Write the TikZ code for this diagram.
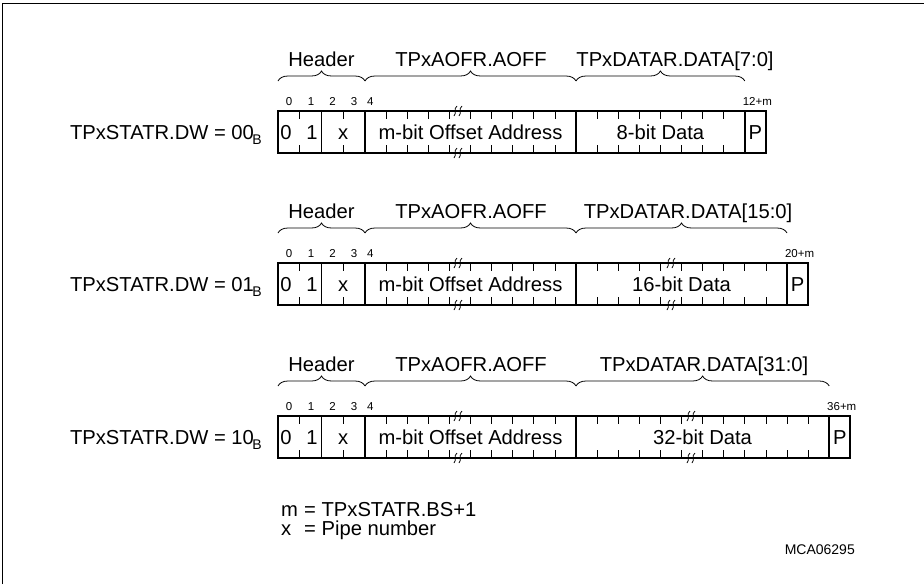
\documentclass[tikz,border=0pt]{standalone}
\usepackage{fontspec}
\setmainfont{Liberation Sans}
\usetikzlibrary{decorations.pathreplacing}
\tikzset{
  txt/.style={inner sep=0pt, font=\fontsize{20.2}{23}\selectfont, anchor=base},
  bitlbl/.style={inner sep=0pt, font=\fontsize{11.5}{12}\selectfont, anchor=base},
  note/.style={inner sep=0pt, font=\fontsize{14}{16}\selectfont, anchor=base east},
  heavy/.style={line width=2pt},
  light/.style={line width=0.9pt},
  tickline/.style={line width=0.8pt},
  bracestyle/.style={decorate, decoration={brace, amplitude=10pt}, line width=0.8pt},
}
\newcommand\brkmark[2]{%
  \draw[tickline] (#1-4,#2+5) .. controls (#1-1,#2+2) and (#1-5,#2-2) .. (#1-1,#2-5);
  \draw[tickline] (#1+1,#2+5) .. controls (#1+4,#2+2) and (#1,#2-2) .. (#1+4,#2-5);
}
% #1 prefix, #2 top y, #3 data units, #4 data label, #5 data label x,
% #6 row label value, #7 data break x (0 = none), #8 data text, #9 end bit label
\newcommand\bitrow[9]{%
  \pgfmathsetmacro\rwT{#2}
  \pgfmathsetmacro\rwB{#2+42}
  \pgfmathsetmacro\rwD{576+#3*21.1}
  \pgfmathsetmacro\rwP{\rwD+21.1}
  \pgfmathsetmacro\rwPc{\rwD+10.55}
  \pgfmathsetmacro\rwDc{(576+\rwD)/2}
  \pgfmathsetmacro\rwBase{#2+28}
  \pgfmathsetmacro\rwLab{#2-45}
  \pgfmathsetmacro\rwBit{#2-6}
  \pgfmathsetmacro\rwBr{#2-30}
  \pgfmathtruncatemacro\rwN{#3-1}
  % ticks
  \foreach \x in {299.75,343.25} {
    \draw[tickline] (\x,\rwT) -- ++(0,8);
    \draw[tickline] (\x,\rwB) -- ++(0,-8);
  }
  \foreach \k in {1,...,9} {
    \draw[tickline] (365+\k*21.1,\rwT) -- ++(0,8);
    \draw[tickline] (365+\k*21.1,\rwB) -- ++(0,-8);
  }
  \foreach \k in {1,...,\rwN} {
    \draw[tickline] (576+\k*21.1,\rwT) -- ++(0,8);
    \draw[tickline] (576+\k*21.1,\rwB) -- ++(0,-8);
  }
  % frame and dividers
  \draw[heavy] (278,\rwT) rectangle (\rwP,\rwB);
  \draw[light] (321.5,\rwT) -- (321.5,\rwB);
  \draw[heavy] (365,\rwT) -- (365,\rwB);
  \draw[heavy] (576,\rwT) -- (576,\rwB);
  \draw[heavy] (\rwD,\rwT) -- (\rwD,\rwB);
  % break marks
  \brkmark{458}{\rwT}
  \brkmark{458}{\rwB}
  \ifdim #7pt>0pt
    \brkmark{#7}{\rwT}
    \brkmark{#7}{\rwB}
  \fi
  % braces
  \draw[bracestyle] (278,\rwBr) -- (365,\rwBr);
  \draw[bracestyle] (365,\rwBr) -- (576,\rwBr);
  \draw[bracestyle] (576,\rwBr) -- (\rwD,\rwBr);
  % brace labels
  \node[txt] (#1hdr) at (321.5,\rwLab) {Header};
  \node[txt] (#1aoff) at (471,\rwLab) {TPxAOFR.AOFF};
  \node[txt] (#1data) at (#5,\rwLab) {#4};
  % bit numbers
  \node[bitlbl] (#1b0) at (289,\rwBit) {0};
  \node[bitlbl] (#1b1) at (311,\rwBit) {1};
  \node[bitlbl] (#1b2) at (332.5,\rwBit) {2};
  \node[bitlbl] (#1b3) at (354,\rwBit) {3};
  \node[bitlbl, anchor=base west] (#1b4) at (367,\rwBit) {4};
  \node[bitlbl] (#1bend) at (\rwPc+2,\rwBit) {#9};
  % field texts
  \node[txt] (#1z) at (286,\rwBase) {0};
  \node[txt] (#1o) at (312,\rwBase) {1};
  \node[txt] (#1x) at (343.25,\rwBase) {x};
  \node[txt] (#1off) at (470.5,\rwBase) {m-bit Offset Address};
  \node[txt] (#1dat) at (\rwDc,\rwBase) {#8};
  \node[txt] (#1p) at (\rwPc,\rwBase) {P};
  % row label
  \node[txt, anchor=base east] (#1dw) at (262,\rwBase) {TPxSTATR.DW = #6\kern-1.5pt{\fontsize{14}{14}\selectfont\raisebox{-5pt}{B}}};
}
\begin{document}
\begin{tikzpicture}[x=1pt,y=-1pt]
\useasboundingbox (0,0) rectangle (924,584);
\draw[line width=0.8pt] (2.5,584) -- (2.5,3) -- (924,3);
\bitrow{ra}{111}{8}{TPxDATAR.DATA[7:0]}{675}{00}{0}{8-bit Data}{12+m}
\bitrow{rb}{263}{10}{TPxDATAR.DATA[15:0]}{688}{01}{671}{16-bit Data}{20+m}
\bitrow{rc}{416}{12}{TPxDATAR.DATA[31:0]}{704}{10}{691}{32-bit Data}{36+m}
\node[txt, anchor=base west] (mvar) at (281,516) {m};
\node[txt, anchor=base west] (mdef) at (304,516) {= TPxSTATR.BS+1};
\node[txt, anchor=base west] (xvar) at (281,535) {x};
\node[txt, anchor=base west] (xdef) at (304,535) {= Pipe number};
\node[note] (code) at (855,554) {MCA06295};
\end{tikzpicture}
\end{document}
